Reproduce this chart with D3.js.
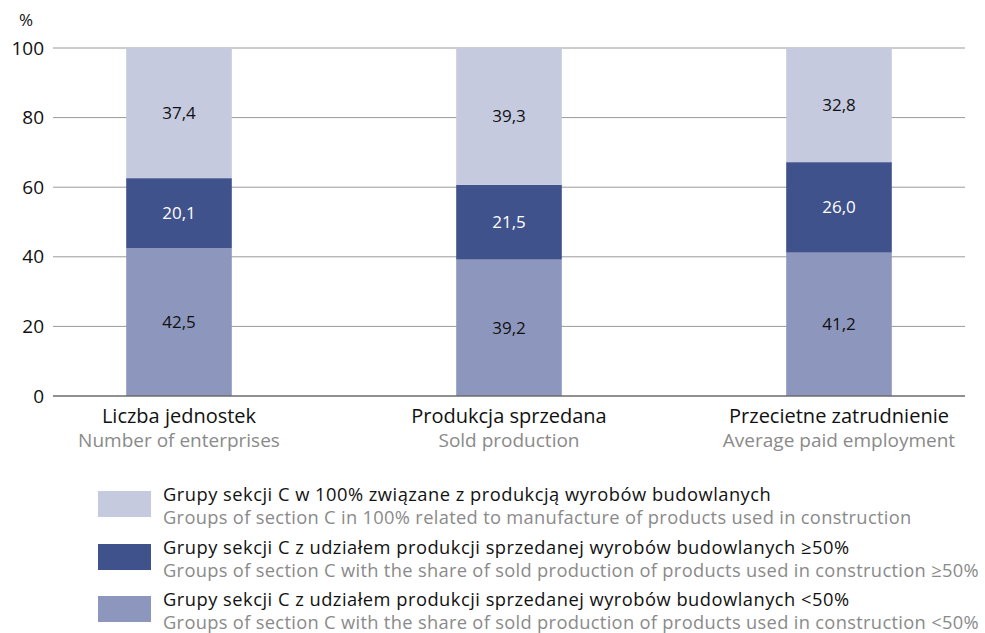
<!DOCTYPE html>
<html>
<head>
<meta charset="utf-8">
<script src="https://cdn.jsdelivr.net/npm/d3@7"></script>
<style>
  body { margin: 0; background: #fff; }
  text { font-family: "Open Sans", "Noto Sans", sans-serif; }
</style>
</head>
<body>
<div id="chart"></div>
<script>
// categories (pl / en)
var categoriesPl = ["Liczba jednostek", "Produkcja sprzedana", "Przecietne zatrudnienie"];
var categoriesEn = ["Number of enterprises", "Sold production", "Average paid employment"];

// series, bottom to top
var seriesLow  = [42.5, 39.2, 41.2];   // <50%
var seriesHigh = [20.1, 21.5, 26.0];   // >=50%
var seriesFull = [37.4, 39.3, 32.8];   // 100%

var yTicks = [0, 20, 40, 60, 80, 100];

var legendPl = [
  "Grupy sekcji C w 100% związane z produkcją wyrobów budowlanych",
  "Grupy sekcji C z udziałem produkcji sprzedanej wyrobów budowlanych ≥50%",
  "Grupy sekcji C z udziałem produkcji sprzedanej wyrobów budowlanych <50%"
];
var legendEn = [
  "Groups of section C in 100% related to manufacture of products used in construction",
  "Groups of section C with the share of sold production of products used in construction ≥50%",
  "Groups of section C with the share of sold production of products used in construction <50%"
];

var colors = { low: "#8d97bd", high: "#3f528c", full: "#c5cadf" };

var width = 985, height = 633;

var svg = d3.select("#chart")
    .append("svg")
    .attr("width", width)
    .attr("height", height);

var x = d3.scaleBand()
    .domain(categoriesPl)
    .range([14, 1004])
    .paddingInner(0.68)
    .paddingOuter(0.34);

var y = d3.scaleLinear()
    .domain([0, 100])
    .range([396, 48]);

// grid
svg.append("g")
    .selectAll("line")
    .data(yTicks.filter(d => d > 0))
    .enter()
    .append("line")
    .attr("x1", 53).attr("x2", 965)
    .attr("y1", d => y(d)).attr("y2", d => y(d))
    .attr("stroke", "#9a9a9a")
    .attr("stroke-width", 1);

// y axis labels
var yAxis = svg.append("g")
    .attr("transform", "translate(53,0)")
    .call(d3.axisLeft(y).tickValues(yTicks).tickSize(0).tickPadding(9));
yAxis.select(".domain").remove();
yAxis.selectAll("text")
    .style("font-family", "'Open Sans', sans-serif")
    .style("font-size", "19px")
    .attr("fill", "#111");

svg.append("text")
    .attr("x", 26).attr("y", 26)
    .attr("text-anchor", "middle")
    .style("font-size", "17px")
    .attr("fill", "#111")
    .text("%");

// stacked data
var rows = categoriesPl.map((c, i) => ({ cat: c, low: seriesLow[i], high: seriesHigh[i], full: seriesFull[i] }));
var keys = ["low", "high", "full"];
var stack = d3.stack().keys(keys)(rows);

var layers = svg.append("g")
    .selectAll("g")
    .data(stack)
    .enter()
    .append("g")
    .attr("fill", d => colors[d.key]);

layers.selectAll("rect")
    .data(d => d)
    .enter()
    .append("rect")
    .attr("x", d => x(d.data.cat))
    .attr("y", d => y(d[1]))
    .attr("width", x.bandwidth())
    .attr("height", d => y(d[0]) - y(d[1]));

layers.each(function(layer) {
  d3.select(this).selectAll("text")
    .data(layer)
    .enter()
    .append("text")
    .attr("x", d => x(d.data.cat) + x.bandwidth() / 2)
    .attr("y", d => y((d[0] + d[1]) / 2))
    .attr("dy", "0.35em")
    .attr("text-anchor", "middle")
    .style("font-size", "17px")
    .attr("fill", layer.key === "high" ? "#fff" : "#111")
    .text(d => (d[1] - d[0]).toFixed(1).replace(".", ","));
});

// x axis line
svg.append("line")
    .attr("x1", 53).attr("x2", 965)
    .attr("y1", y(0)).attr("y2", y(0))
    .attr("stroke", "#6b6b6b")
    .attr("stroke-width", 1.3);

// category labels
var cat = svg.append("g")
    .selectAll("g")
    .data(categoriesPl)
    .enter()
    .append("g")
    .attr("transform", d => "translate(" + (x(d) + x.bandwidth() / 2) + ",0)");
cat.append("text")
    .attr("y", 423)
    .attr("text-anchor", "middle")
    .style("font-size", "20px")
    .attr("fill", "#111")
    .text(d => d);
cat.append("text")
    .attr("y", 447)
    .attr("text-anchor", "middle")
    .style("font-size", "19px")
    .attr("fill", "#8a8a8a")
    .text((d, i) => categoriesEn[i]);

// legend
var legendColors = [colors.full, colors.high, colors.low];
var legendTop = [491, 544, 596];
var leg = svg.append("g")
    .selectAll("g")
    .data(legendPl)
    .enter()
    .append("g")
    .attr("transform", (d, i) => "translate(0," + legendTop[i] + ")");
leg.append("rect")
    .attr("x", 98).attr("y", 0)
    .attr("width", 53).attr("height", 26)
    .attr("fill", (d, i) => legendColors[i]);
leg.append("text")
    .attr("x", 163).attr("y", 10)
    .style("font-size", "18.3px")
    .style("letter-spacing", "0.5px")
    .attr("fill", "#111")
    .text(d => d);
leg.append("text")
    .attr("x", 163).attr("y", 33)
    .style("font-size", "18.3px")
    .style("letter-spacing", "0.32px")
    .attr("fill", "#8a8a8a")
    .text((d, i) => legendEn[i]);
</script>
</body>
</html>
